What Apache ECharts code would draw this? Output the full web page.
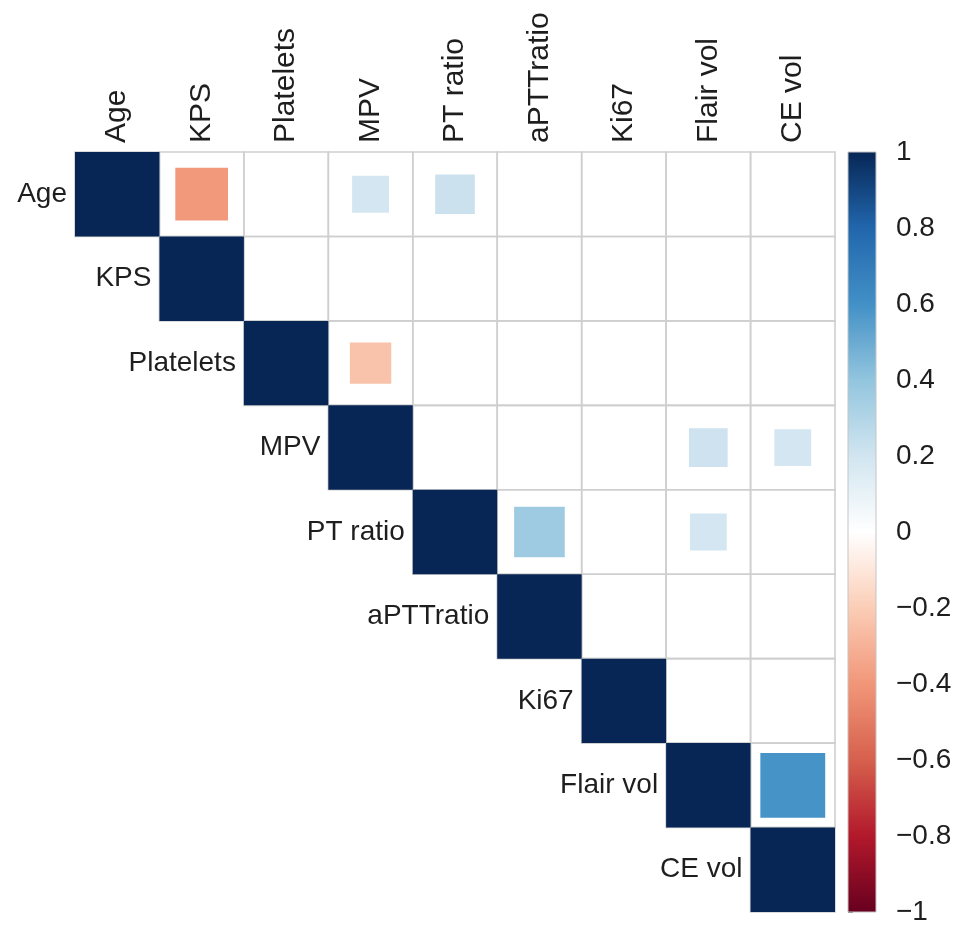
<!DOCTYPE html>
<html>
<head>
<meta charset="utf-8">
<script src="https://cdn.jsdelivr.net/npm/echarts@6/dist/echarts.min.js"></script>
<style>
html,body{margin:0;padding:0;background:#fff;}
#chart{width:969px;height:936px;}
</style>
</head>
<body>
<div id="chart"></div>
<script>
// ---- data ----
const variables = ['Age', 'KPS', 'Platelets', 'MPV', 'PT ratio', 'aPTTratio', 'Ki67', 'Flair vol', 'CE vol'];
// upper-triangle correlation rows (null = blank / not shown)
const rowAge       = [1, -0.39, null, 0.19, 0.22, null, null, null, null];
const rowKPS       = [null, 1, null, null, null, null, null, null, null];
const rowPlatelets = [null, null, 1, -0.24, null, null, null, null, null];
const rowMPV       = [null, null, null, 1, null, null, null, 0.21, 0.19];
const rowPTratio   = [null, null, null, null, 1, 0.36, null, 0.19, null];
const rowAPTT      = [null, null, null, null, null, 1, null, null, null];
const rowKi67      = [null, null, null, null, null, null, 1, null, null];
const rowFlair     = [null, null, null, null, null, null, null, 1, 0.59];
const rowCE        = [null, null, null, null, null, null, null, null, 1];
const corrRows = [rowAge, rowKPS, rowPlatelets, rowMPV, rowPTratio, rowAPTT, rowKi67, rowFlair, rowCE];
const colorbarTicks = [-1, -0.8, -0.6, -0.4, -0.2, 0, 0.2, 0.4, 0.6, 0.8, 1];

// ---- style ----
const palette = ['#67001F', '#B2182B', '#D6604D', '#F19678', '#FBCDB6', '#FFFFFF',
                 '#D1E5F0', '#92C5DE', '#4290C6', '#2166AC', '#072655'];
const FONT = '"Liberation Sans", Arial, Helvetica, sans-serif';
const TEXT = '#1e1e1e';

function hex2rgb(h){ return [parseInt(h.slice(1,3),16), parseInt(h.slice(3,5),16), parseInt(h.slice(5,7),16)]; }
function colorOf(r){
  const t = (r + 1) / 2 * (palette.length - 1);
  const i = Math.max(0, Math.min(palette.length - 2, Math.floor(t)));
  const f = t - i;
  const a = hex2rgb(palette[i]), b = hex2rgb(palette[i+1]);
  const c = a.map((v, k) => Math.round(v + (b[k] - v) * f));
  return 'rgb(' + c.join(',') + ')';
}

// build cell list: upper triangle incl. diagonal
const cells = [];
corrRows.forEach((row, ri) => {
  row.forEach((v, ci) => {
    if (ci >= ri) cells.push([ci, ri, v]);
  });
});

const chart = echarts.init(document.getElementById('chart'), null, {renderer: 'canvas'});

const option = {
  backgroundColor: '#fff',
  animation: false,
  grid: [
    {left: 75, top: 152, width: 760, height: 760},
    {left: 848, top: 152, width: 28, height: 760}
  ],
  xAxis: [
    {
      gridIndex: 0, type: 'category', data: variables, position: 'top',
      axisLine: {show: false}, axisTick: {show: false}, splitLine: {show: false},
      axisLabel: {rotate: -90, fontSize: 30, color: TEXT, fontFamily: FONT, margin: 9, interval: 0}
    },
    {gridIndex: 1, type: 'value', min: 0, max: 1, show: false}
  ],
  yAxis: [
    {
      gridIndex: 0, type: 'category', data: variables, inverse: true,
      axisLine: {show: false}, axisTick: {show: false}, axisLabel: {show: false}, splitLine: {show: false}
    },
    {
      gridIndex: 1, type: 'value', min: -1, max: 1, interval: 0.2, position: 'right',
      axisLine: {show: false},
      axisTick: {show: true, length: 5, inside: false, lineStyle: {color: '#777', width: 1}},
      splitLine: {show: false},
      axisLabel: {
        fontSize: 28, color: TEXT, fontFamily: FONT, margin: 20,
        formatter: function (v) {
          const r = Math.round(v * 10) / 10;
          if (colorbarTicks.indexOf(r) < 0) return '';
          return String(r).replace('-', '\u2212');
        }
      }
    }
  ],
  series: [
    {
      type: 'custom', xAxisIndex: 0, yAxisIndex: 0, z: 1,
      data: cells,
      renderItem: function (params, api) {
        const c = api.coord([api.value(0), api.value(1)]);
        const s = api.size([1, 1]);
        return {
          type: 'rect',
          shape: {x: c[0] - s[0] / 2, y: c[1] - s[1] / 2, width: s[0], height: s[1]},
          style: {fill: 'none', stroke: '#cfcfcf', lineWidth: 1.6}
        };
      }
    },
    {
      type: 'custom', xAxisIndex: 0, yAxisIndex: 0, z: 3,
      data: cells,
      renderItem: function (params, api) {
        const ci = api.value(0), ri = api.value(1);
        const raw = cells[params.dataIndex][2];
        const c = api.coord([ci, ri]);
        const s = api.size([1, 1]);
        const children = [];
        if (raw !== null && raw !== undefined) {
          const side = Math.sqrt(Math.abs(raw));
          const w = s[0] * side, h = s[1] * side;
          children.push({
            type: 'rect',
            shape: {x: c[0] - w / 2, y: c[1] - h / 2, width: w, height: h},
            style: {fill: colorOf(raw)}
          });
        }
        if (ci === ri) {
          children.push({
            type: 'text',
            style: {
              x: c[0] - s[0] / 2 - 8, y: c[1],
              text: variables[ri], align: 'right', verticalAlign: 'middle',
              fontSize: 28, fill: TEXT, fontFamily: FONT
            }
          });
        }
        return {type: 'group', children: children};
      }
    },
    {
      type: 'custom', xAxisIndex: 1, yAxisIndex: 1, z: 2,
      data: [[0, 0]],
      renderItem: function (params, api) {
        const cs = params.coordSys;
        const stops = palette.map((col, i) => ({offset: 1 - i / (palette.length - 1), color: col}));
        stops.reverse();
        return {
          type: 'rect',
          shape: {x: cs.x, y: cs.y, width: cs.width, height: cs.height},
          style: {
            fill: {type: 'linear', x: 0, y: 0, x2: 0, y2: 1, colorStops: stops},
            stroke: '#c4c4c4', lineWidth: 1
          }
        };
      }
    }
  ]
};
chart.setOption(option);
</script>
</body>
</html>
